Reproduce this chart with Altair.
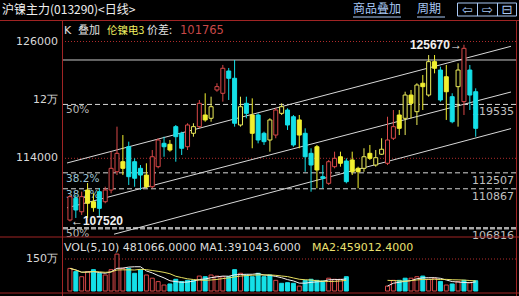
import altair as alt
import pandas as pd

# ---------------- data ----------------
idx = list(range(1, 71))
opens = [107660,109890,108510,110740,109540,110570,109540,110740,112620,113650,
         115190,113650,112970,112280,111080,113140,115540,115440,117250,116570,
         115190,116570,117250,118450,118110,121020,120680,122970,122220,117420,
         119650,118450,118450,116570,115880,116390,118620,118960,118270,117940,
         116570,114510,115190,112110,111430,113140,114160,113720,113830,112970,
         112970,114510,113310,114420,113490,116060,118450,118110,120500,118790,
         121710,120500,123930,123070,122380,120330,121360,119820,123070,120840]
closes = [110060,108690,110060,109380,108930,108860,110740,112970,114510,112970,
          112110,111950,112280,111080,114160,115880,115190,114850,116220,115030,
          117420,117250,119650,117940,119300,121360,123250,122220,117600,119300,
          118620,116570,115880,115710,117940,118960,119300,117420,115370,116390,
          114160,113310,112800,111950,113650,114000,113490,111600,112620,112620,
          114160,114000,114060,114930,115880,117250,117080,120500,119650,121530,
          121360,123930,123250,119990,120840,117760,123070,125300,120500,117080]
highs = [110230,110230,110570,111460,110400,110950,111080,114680,117250,116390,
         115710,114000,113310,113490,114850,116060,116220,115880,117420,116730,
         117600,117600,119990,120680,120330,121710,123590,123280,124100,120330,
         120330,120160,118620,116730,118110,119140,119650,119140,118450,118450,
         117080,115030,115370,113310,113830,114680,114680,114000,114680,113140,
         115030,115370,114850,116060,118270,118960,118960,120840,121020,121710,
         122560,124610,124610,123410,123590,120680,123760,125670,123590,121190]
lows = [107520,107870,108180,107870,108510,108000,109380,110400,112280,112280,
        111260,111080,110740,110920,110920,112970,114160,114680,113650,114340,
        114850,116220,117080,117760,117760,120840,119820,119990,117250,117250,
        118110,115030,115540,115370,114680,116060,118450,116910,115190,115030,
        112620,110570,110920,110920,111260,112970,113140,111430,112280,110920,
        112620,113830,113140,114340,113310,115880,116390,116390,118110,117420,
        118960,120330,122730,119820,117940,117600,117250,118450,118960,116220]
kinds = ['r','c','r','y','y','c','r','r','r','y',
         'c','c','c','y','r','r','c','y','c','c',
         'r','yh','r','y','yh','r','r','c','c','yh',
         'c','y','c','c','yh','r','yh','c','c','y',
         'c','c','y','c','r','r','y','c','y','y',
         'yh','y','yh','yh','r','r','y','yh','y','yh',
         'y','yh','y','c','y','c','yh','r','c','c']

vols = [1060000, 910000, 670000, 910000, 1000000, 830000, 750000, 1000000, 1730000, 1060000,
        1060000, 830000, 1000000, 750000, 600000, 440000, 280000, 330000, 550000, 440000,
        500000, 500000, 700000, 670000, 750000, 700000, 670000, 670000, 1000000, 830000,
        750000, 670000, 830000, 670000, 750000, 500000, 360000, 390000, 360000, 230000,
        500000, 550000, 500000, 470000, 600000, 550000, 550000, 670000, None, None,
        None, None, None, None, 230000, 500000, 500000, 600000, 600000, 670000,
        700000, 550000, 600000, 450000, 280000, 330000, 440000, 500000, 390000, 481066]
vol_kinds = ['r','c','r','r','c','c','r','r','r','r',
             'c','c','c','r','r','r','r','c','c','c',
             'c','c','r','c','r','r','r','c','c','r',
             'c','c','c','c','c','r','c','c','c','r',
             'c','c','c','c','r','r','r','c','r','r',
             'r','r','r','r','r','r','c','c','r','r',
             'c','r','r','c','r','c','r','c','r','c']

grid_prices = [126000, 114000]
high_line = [124100]
fib_prices = [119535, 112507, 110867]
fib_low = [106816]
fib_left_text = ['50%', '38.2%', '38.2%', '50%']
fib_left_color = ['#b8b8b8', '#9cc4d4', '#9cc4d4', '#b8b8b8']

trend_id = ['A', 'A', 'B', 'B', 'C', 'C']
trend_idx = [0.5, 76, 0.5, 76, 8.5, 76]
trend_price = [113517, 125507, 108914, 120812, 106202, 117051]

axis_ticks = [126000, 120000, 114000]
axis_text = ['126000', '12万', '114000']
vol_tick = [1500000]
vol_tick_text = ['150万']

# ---------------- scales ----------------
W, H = 454, 276
xs = alt.Scale(domain=[0.5, 76], nice=False, zero=False)
ps = alt.Scale(domain=[99853, 128209], nice=False, zero=False)
vs = alt.Scale(domain=[-234375, 12703125], nice=False, zero=False)
kdom = ['r', 'c', 'y', 'yh']
stroke_rng = ['#d84848', '#14e0e8', '#f2f030', '#ecec5a']
fill_rng = ['#000000', '#14e0e8', '#f2f030', '#000000']
X = alt.X('idx:Q', scale=xs, axis=None)

candles = pd.DataFrame(dict(idx=idx, o=opens, c=closes, h=highs, l=lows, k=kinds))
vol_df = pd.DataFrame(dict(idx=idx, v=vols, k=vol_kinds))

RED = '#a02424'
FONT = 'DejaVu Sans'
CJK = 'Noto Sans CJK SC'


def txt(text, x, y, color, size=12, font=FONT, align='left', baseline='middle', weight='normal'):
    return alt.Chart(pd.DataFrame({'t': [text]})).mark_text(
        align=align, baseline=baseline, color=color, fontSize=size, font=font, fontWeight=weight
    ).encode(x=alt.value(x), y=alt.value(y), text='t:N')


# ---- price panel ----
grid = alt.Chart(pd.DataFrame({'p': grid_prices})).mark_rule(
    color='#b02c2c', strokeDash=[1, 2], strokeWidth=1).encode(y=alt.Y('p:Q', scale=ps, axis=None))
hl = alt.Chart(pd.DataFrame({'p': high_line})).mark_rule(
    color='#c8c8c8', strokeWidth=1).encode(y=alt.Y('p:Q', scale=ps, axis=None))
fib = alt.Chart(pd.DataFrame({'p': fib_prices})).mark_rule(
    color='#d8d8d8', strokeDash=[5, 3], strokeWidth=1).encode(y=alt.Y('p:Q', scale=ps, axis=None))
fibl = alt.Chart(pd.DataFrame({'p': fib_low})).mark_rule(
    color='#a8a8a8', strokeDash=[5, 2], strokeWidth=2.5).encode(y=alt.Y('p:Q', scale=ps, axis=None))

trend = alt.Chart(pd.DataFrame(dict(g=trend_id, idx=trend_idx, p=trend_price))).mark_line(
    color='#d8d8d8', strokeWidth=1).encode(X, y=alt.Y('p:Q', scale=ps, axis=None), detail='g:N')

all_fib = fib_prices + fib_low
fib_lab_df = pd.DataFrame(dict(p=all_fib, t=fib_left_text, col=fib_left_color, r=[str(v) for v in all_fib]))
fib_left = alt.Chart(fib_lab_df).mark_text(align='left', baseline='top', dy=1, fontSize=10.5, font=FONT).encode(
    x=alt.value(4), y=alt.Y('p:Q', scale=ps, axis=None), text='t:N',
    color=alt.Color('col:N', scale=None, legend=None))
fib_right = alt.Chart(fib_lab_df).mark_text(align='right', baseline='top', dy=2, fontSize=11, font=FONT,
                                            color='#c0c0c0').encode(
    x=alt.value(452), y=alt.Y('p:Q', scale=ps, axis=None), text='r:N')

axis_lab = alt.Chart(pd.DataFrame({'p': axis_ticks, 't': axis_text})).mark_text(
    align='right', baseline='middle', fontSize=11, font=FONT, color='#d8d8d8').encode(
    x=alt.value(-4), y=alt.Y('p:Q', scale=ps, axis=None), text='t:N')

wick = alt.Chart(candles).mark_rule(strokeWidth=1).encode(
    X, y=alt.Y('l:Q', scale=ps, axis=None), y2='h:Q',
    color=alt.Color('k:N', scale=alt.Scale(domain=kdom, range=stroke_rng), legend=None))
body = alt.Chart(candles).mark_bar(size=4, strokeWidth=1).encode(
    X, y=alt.Y('o:Q', scale=ps, axis=None), y2='c:Q',
    fill=alt.Fill('k:N', scale=alt.Scale(domain=kdom, range=fill_rng), legend=None),
    stroke=alt.Stroke('k:N', scale=alt.Scale(domain=kdom, range=stroke_rng), legend=None))

hi_i = highs.index(max(highs))
ann_hi = alt.Chart(pd.DataFrame({'idx': [idx[hi_i]], 'p': [highs[hi_i]], 't': [f'{highs[hi_i]}→']})).mark_text(
    align='right', baseline='middle', dx=-2, fontSize=12, font='Liberation Sans', fontWeight='bold',
    color='#f0f0f0').encode(X, y=alt.Y('p:Q', scale=ps, axis=None), text='t:N')
lo_i = lows.index(min(lows))
ann_lo = alt.Chart(pd.DataFrame({'idx': [idx[lo_i]], 'p': [lows[lo_i]], 't': [f'←{lows[lo_i]}']})).mark_text(
    align='left', baseline='middle', dx=1, fontSize=12, font='Liberation Sans', fontWeight='bold',
    color='#f0f0f0').encode(X, y=alt.Y('p:Q', scale=ps, axis=None), text='t:N')

price = alt.layer(grid, hl, fib, fibl, trend, fib_left, fib_right, axis_lab, wick, body, ann_hi, ann_lo)

# ---- volume panel ----
vtick_df = pd.DataFrame({'v': vol_tick, 't': vol_tick_text})
vgrid = alt.Chart(vtick_df).mark_rule(
    color='#b02c2c', strokeDash=[1, 2]).encode(y=alt.Y('v:Q', scale=vs, axis=None))
vlab = alt.Chart(vtick_df).mark_text(
    align='right', baseline='middle', fontSize=11, font=FONT, color='#d8d8d8').encode(
    x=alt.value(-4), y=alt.Y('v:Q', scale=vs, axis=None), text='t:N')
vbars = alt.Chart(vol_df).transform_filter('isValid(datum.v)').mark_bar(size=4, strokeWidth=1).encode(
    X, y=alt.Y('v:Q', scale=vs, axis=None), y2=alt.datum(0),
    fill=alt.Fill('k:N', scale=alt.Scale(domain=kdom, range=fill_rng), legend=None),
    stroke=alt.Stroke('k:N', scale=alt.Scale(domain=kdom, range=stroke_rng), legend=None))
ma_base = alt.Chart(vol_df).transform_window(
    ma5='mean(v)', frame=[-4, 0], sort=[alt.SortField('idx')]
).transform_window(
    ma10='mean(v)', frame=[-9, 0], sort=[alt.SortField('idx')]
).transform_filter('isValid(datum.v)').transform_calculate(seg='datum.idx < 50 ? 0 : 1')
ma5 = ma_base.mark_line(color='#f4f4f4', strokeWidth=1).encode(
    X, y=alt.Y('ma5:Q', scale=vs, axis=None), detail='seg:N')
ma10 = ma_base.mark_line(color='#e8e060', strokeWidth=1).encode(
    X, y=alt.Y('ma10:Q', scale=vs, axis=None), detail='seg:N')
volume = alt.layer(vgrid, vlab, vbars, ma5, ma10)

# ---- frame & header ----
def hrule(y, x1=-62, x2=457, color=RED):
    return alt.Chart(pd.DataFrame({'a': [0]})).mark_rule(color=color, strokeWidth=1).encode(
        x=alt.value(x1), x2=alt.value(x2), y=alt.value(y))


def vrule(x, y1=0, y2=276, color=RED):
    return alt.Chart(pd.DataFrame({'a': [0]})).mark_rule(color=color, strokeWidth=1).encode(
        x=alt.value(x), y=alt.value(y1), y2=alt.value(y2))


LINK = '#a8c8f4'
frame = alt.layer(
    hrule(0.5), hrule(217), hrule(273),
    vrule(0.5), vrule(454.5),
    txt('沪镍主力(013290)<日线>', -60, -10, '#f0f0f0', size=12, font=CJK),
    txt('K', 2, 11, '#e0e0e0', size=11, font=FONT),
    txt('叠加', 16, 11, '#e0e0e0', size=11, font=CJK),
    txt('伦镍电3', 45, 11, '#f0f060', size=10.5, font=CJK),
    txt('价差:', 85, 11, '#e0e0e0', size=11, font=CJK),
    txt('101765', 118, 11, '#c84848', size=11.5, font=FONT),
    txt('VOL(5,10) 481066.0000 MA1:391043.6000', 2, 228, '#dcdcdc', size=11, font=FONT),
    txt('MA2:459012.4000', 250, 228, '#ece070', size=11, font=FONT),
    txt('商品叠加', 291, -11, LINK, size=12, font=CJK),
    txt('周期', 355, -11, LINK, size=12, font=CJK),
    hrule(-3, 291, 339, LINK), hrule(-3, 355, 383, LINK),
    txt('⇦', 405.5, -10.5, LINK, size=13, font=FONT, align='center'),
    txt('⇨', 425.5, -10.5, LINK, size=13, font=FONT, align='center'),
    txt('⊟', 445, -10.5, LINK, size=13, font=FONT, align='center'),
    vrule(395.5, -17, -4, LINK), vrule(415.5, -17, -4, LINK), vrule(435.5, -17, -4, LINK), vrule(454.5, -17, -4, LINK),
    hrule(-17, 395.5, 454.5, LINK), hrule(-4, 395.5, 454.5, LINK),
)

chart = alt.layer(price, volume, frame).resolve_scale(y='independent').properties(
    width=W, height=H,
    autosize=alt.AutoSizeParams(type='none'),
    padding={'left': 62, 'top': 20, 'right': 3, 'bottom': 0},
    background='#000000',
).configure_view(stroke=None)

chart.save('out.html', embed_options={'renderer': 'svg', 'actions': False})
